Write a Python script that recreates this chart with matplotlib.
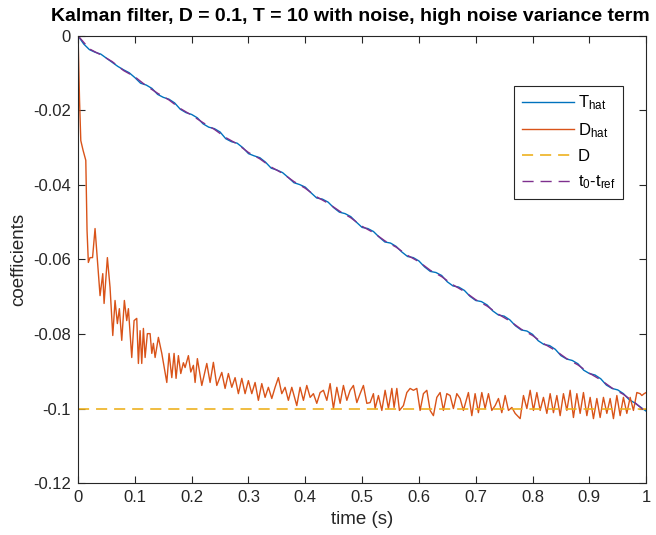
import numpy as np
import matplotlib
matplotlib.use("Agg")
import matplotlib.pyplot as plt

plt.rcParams['font.family'] = ['Liberation Sans', 'DejaVu Sans']
plt.rcParams['mathtext.default'] = 'regular'
plt.rcParams['axes.unicode_minus'] = False
plt.rcParams['lines.scale_dashes'] = False

# T_hat sampled every 0.01 s
t_that = np.linspace(0, 1, 101)
T_hat = [0.0, -0.0022, -0.0037, -0.0044, -0.0049, -0.0060, -0.0071, -0.0082, -0.0091, -0.0099,
         -0.0112, -0.0127, -0.0132, -0.0141, -0.0157, -0.0165, -0.0170, -0.0180, -0.0197, -0.0206,
         -0.0211, -0.0220, -0.0236, -0.0245, -0.0249, -0.0258, -0.0276, -0.0284, -0.0288, -0.0300,
         -0.0316, -0.0322, -0.0327, -0.0339, -0.0355, -0.0360, -0.0367, -0.0380, -0.0394, -0.0399,
         -0.0406, -0.0421, -0.0435, -0.0438, -0.0446, -0.0461, -0.0473, -0.0477, -0.0485, -0.0500,
         -0.0514, -0.0517, -0.0525, -0.0540, -0.0553, -0.0556, -0.0565, -0.0580, -0.0592, -0.0595,
         -0.0604, -0.0620, -0.0632, -0.0635, -0.0643, -0.0660, -0.0671, -0.0674, -0.0683, -0.0699,
         -0.0710, -0.0713, -0.0722, -0.0738, -0.0749, -0.0752, -0.0762, -0.0778, -0.0789, -0.0792,
         -0.0801, -0.0818, -0.0828, -0.0831, -0.0841, -0.0858, -0.0867, -0.0871, -0.0880, -0.0897,
         -0.0906, -0.0910, -0.0920, -0.0937, -0.0946, -0.0950, -0.0960, -0.0976, -0.0985, -0.0996,
         -0.1007]

# t0 - t_ref sampled every 0.02 s
t_ref = np.linspace(0, 1, 51)
t0_tref = [0.0, -0.0035, -0.0051, -0.0069, -0.0093, -0.0110, -0.0134, -0.0154, -0.0172, -0.0195,
           -0.0213, -0.0233, -0.0251, -0.0273, -0.0290, -0.0313, -0.0330, -0.0352, -0.0369, -0.0391,
           -0.0409, -0.0432, -0.0449, -0.0470, -0.0488, -0.0511, -0.0528, -0.0550, -0.0567, -0.0589,
           -0.0606, -0.0629, -0.0646, -0.0668, -0.0686, -0.0708, -0.0725, -0.0747, -0.0765, -0.0787,
           -0.0804, -0.0826, -0.0844, -0.0866, -0.0883, -0.0905, -0.0923, -0.0945, -0.0962, -0.0984,
           -0.1010]

# D_hat estimate
t_dhat = [0.0, 0.0026, 0.0048, 0.0088, 0.0136, 0.0158, 0.0181, 0.0211, 0.0255, 0.0299,
          0.0343, 0.0387, 0.0435, 0.0458, 0.0516, 0.0563, 0.0611, 0.0651, 0.0692, 0.0727,
          0.0769, 0.0815, 0.0857, 0.0886, 0.0945, 0.0986, 0.1033, 0.1062, 0.1092, 0.1121,
          0.1150, 0.1180, 0.1220, 0.1268, 0.1298, 0.1326, 0.1356, 0.1414, 0.1474, 0.1562,
          0.1602, 0.1650, 0.1690, 0.1725, 0.1766, 0.1808, 0.1854, 0.1884, 0.1942, 0.1984,
          0.2030, 0.2060, 0.2100, 0.2178, 0.2266, 0.2324, 0.2382, 0.2442, 0.2530, 0.2588,
          0.2646, 0.2706, 0.2764, 0.2822, 0.2882, 0.2940, 0.2998, 0.3058, 0.3116, 0.3174,
          0.3234, 0.3292, 0.3350, 0.3410, 0.3468, 0.3526, 0.3586, 0.3644, 0.3702, 0.3762,
          0.3850, 0.3908, 0.3967, 0.4026, 0.4085, 0.4143, 0.4202, 0.4261, 0.4319, 0.4379,
          0.4437, 0.4495, 0.4555, 0.4613, 0.4671, 0.4731, 0.4789, 0.4847, 0.4907, 0.4965,
          0.5023, 0.5083, 0.5141, 0.5199, 0.5229, 0.5287, 0.5347, 0.5405, 0.5463, 0.5523,
          0.5563, 0.5611, 0.5657, 0.5727, 0.5787, 0.5845, 0.5903, 0.5963, 0.6021, 0.6079,
          0.6139, 0.6197, 0.6255, 0.6315, 0.6373, 0.6431, 0.6491, 0.6549, 0.6607, 0.6667,
          0.6725, 0.6783, 0.6871, 0.6931, 0.6989, 0.7047, 0.7107, 0.7165, 0.7224, 0.7283,
          0.7342, 0.7400, 0.7459, 0.7518, 0.7576, 0.7636, 0.7694, 0.7782, 0.7840, 0.7900,
          0.7958, 0.8016, 0.8076, 0.8134, 0.8192, 0.8252, 0.8310, 0.8368, 0.8428, 0.8486,
          0.8544, 0.8604, 0.8662, 0.8720, 0.8780, 0.8838, 0.8896, 0.8956, 0.9014, 0.9072,
          0.9132, 0.9190, 0.9248, 0.9308, 0.9366, 0.9424, 0.9484, 0.9542, 0.9600, 0.9660,
          0.9718, 0.9776, 0.9836, 0.9894, 0.9924, 0.9965, 1.0]
D_hat = [0.0, -0.0173, -0.0281, -0.0307, -0.0334, -0.0522, -0.0608, -0.0595, -0.0595, -0.0517,
         -0.0608, -0.0697, -0.0638, -0.0718, -0.0595, -0.0675, -0.0804, -0.0710, -0.0772, -0.0732,
         -0.0817, -0.0710, -0.0764, -0.0732, -0.0863, -0.0764, -0.0758, -0.0879, -0.0791, -0.0879,
         -0.0785, -0.0863, -0.0799, -0.0799, -0.0852, -0.0825, -0.0863, -0.0809, -0.0852, -0.0930,
         -0.0852, -0.0917, -0.0852, -0.0919, -0.0858, -0.0906, -0.0877, -0.0890, -0.0858, -0.0902,
         -0.0884, -0.0930, -0.0866, -0.0938, -0.0879, -0.0930, -0.0876, -0.0938, -0.0903, -0.0946,
         -0.0906, -0.0943, -0.0917, -0.0960, -0.0919, -0.0960, -0.0925, -0.0960, -0.0930, -0.0978,
         -0.0933, -0.0970, -0.0943, -0.0973, -0.0943, -0.0917, -0.0960, -0.0943, -0.0978, -0.0943,
         -0.0992, -0.0943, -0.0978, -0.0938, -0.0970, -0.0960, -0.0986, -0.0957, -0.0951, -0.0978,
         -0.0933, -0.1000, -0.0943, -0.0986, -0.0938, -0.0978, -0.0951, -0.0938, -0.0984, -0.0960,
         -0.0938, -0.0986, -0.0984, -0.0960, -0.1000, -0.0965, -0.1005, -0.0951, -0.1000, -0.0946,
         -0.0997, -0.0946, -0.1005, -0.0992, -0.0957, -0.0946, -0.0951, -0.0946, -0.1005, -0.0960,
         -0.0951, -0.1005, -0.1019, -0.0970, -0.0957, -0.1005, -0.0960, -0.0965, -0.1000, -0.0960,
         -0.0973, -0.1005, -0.0957, -0.1019, -0.0960, -0.1011, -0.0957, -0.1000, -0.0960, -0.1005,
         -0.0992, -0.0973, -0.1011, -0.0965, -0.1005, -0.0997, -0.1013, -0.1027, -0.0965, -0.1000,
         -0.0951, -0.1005, -0.0957, -0.1005, -0.0970, -0.1013, -0.0960, -0.1011, -0.0965, -0.1019,
         -0.0960, -0.1005, -0.0951, -0.1024, -0.0960, -0.1013, -0.0957, -0.1019, -0.0970, -0.1027,
         -0.0973, -0.1024, -0.0970, -0.1013, -0.0973, -0.1027, -0.0965, -0.1019, -0.0970, -0.1013,
         -0.0970, -0.1005, -0.0957, -0.0960, -0.0965, -0.0960, -0.0957]

# true D
t_d = [0.0, 1.0]
D_true = [-0.1, -0.1]

fig = plt.figure(figsize=(6.56, 5.35), dpi=100)
ax = fig.add_axes([0.119, 0.097, 0.866, 0.836])

ax.plot(t_that, T_hat, color=(0, 0.447, 0.741), lw=1.0, label='T$_{hat}$')
ax.plot(t_dhat, D_hat, color=(0.85, 0.325, 0.098), lw=1.0, label='D$_{hat}$')
ax.plot(t_d, D_true, color=(0.929, 0.694, 0.125), lw=1.2, dashes=(8, 5), label='D')
ax.plot(t_ref, t0_tref, color=(0.494, 0.184, 0.556), lw=1.0, dashes=(8, 5), label='t$_{0}$-t$_{ref}$')

ax.set_xlim(0, 1)
ax.set_ylim(-0.12, 0)
ax.set_xticks(np.arange(0, 1.01, 0.1))
ax.set_yticks(np.arange(-0.12, 0.001, 0.02))
ax.xaxis.set_major_formatter(matplotlib.ticker.FormatStrFormatter('%g'))
ax.yaxis.set_major_formatter(matplotlib.ticker.FuncFormatter(lambda v, p: '%g' % round(v, 2)))
ax.tick_params(direction='in', top=True, right=True, length=5, width=0.8,
               labelsize=12, colors='#262626', pad=5)
for sp in ax.spines.values():
    sp.set_color('#262626')
    sp.set_linewidth(0.8)

ax.set_xlabel('time (s)', fontsize=13.5, color='#262626', labelpad=4)
ax.set_ylabel('coefficients', fontsize=13.5, color='#262626', labelpad=4)
ax.set_title('Kalman filter, D = 0.1, T = 10 with noise, high noise variance term',
             fontsize=14, fontweight='bold', pad=11, x=0.48)

leg = ax.legend(loc='upper left', bbox_to_anchor=(0.768, 0.888), fontsize=12,
                handlelength=3.1, fancybox=False, framealpha=1, borderpad=0.45,
                labelspacing=0.55, handletextpad=0.25, borderaxespad=0)
leg.get_frame().set_edgecolor('#262626')
leg.get_frame().set_linewidth(0.8)

fig.savefig('out.png', dpi=100)
